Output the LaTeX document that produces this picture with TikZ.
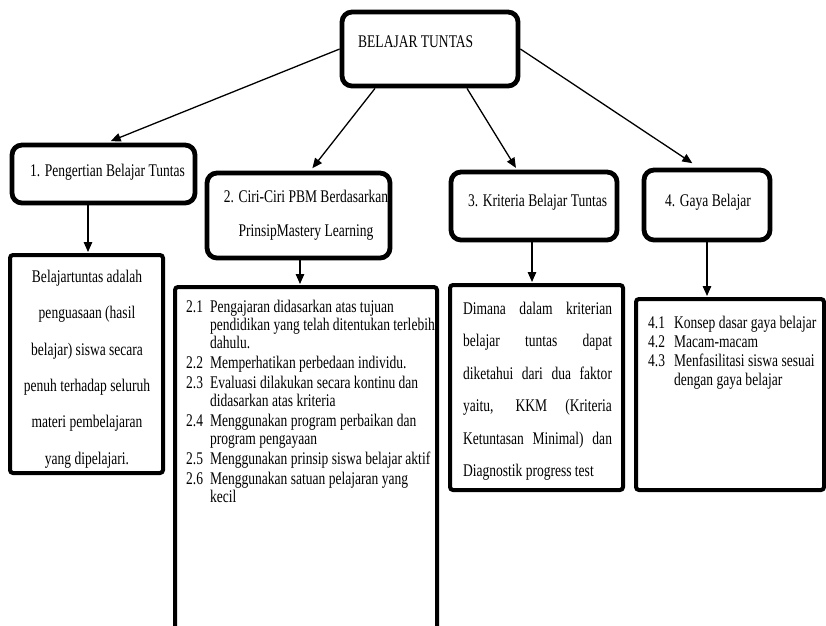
\documentclass[tikz,border=0pt]{standalone}
\usepackage{fontspec}
\setmainfont{Liberation Serif}[FakeStretch=0.76]
\usetikzlibrary{arrows.meta}

\begin{document}
\begin{tikzpicture}[x=1pt, y=-1pt]
\tikzset{hdr/.style={draw, line width=4.8pt, rounded corners=10pt, inner sep=0pt}}
\tikzset{detbox/.style={draw, line width=4pt, rounded corners=3pt, inner sep=0pt}}
\tikzset{txt/.style={inner sep=0pt, font=\fontsize{17.8}{19}\selectfont}}
\tikzset{link/.style={line width=1.3pt, -{Triangle[length=10pt, width=8.5pt]}}}
\useasboundingbox (0,0) rectangle (826,625);

% header boxes
\node[hdr, minimum width=176pt, minimum height=74pt] (root) at (430,49) {};
\node[txt, anchor=west] (roottxt) at (358,42) {BELAJAR TUNTAS};
\node[hdr, minimum width=183pt, minimum height=58pt] (def) at (103.5,174) {};
\node[txt, anchor=west] (deftxt) at (30,172) {1. Pengertian Belajar Tuntas};
\node[hdr, minimum width=183pt, minimum height=85pt] (ciri) at (298.5,215.5) {};
\node[txt, align=center, font=\fontsize{17.8}{34}\selectfont] (ciritxt) at (306,215)
  {2. Ciri-Ciri PBM Berdasarkan\\ PrinsipMastery Learning};
\node[hdr, minimum width=166pt, minimum height=68pt] (krit) at (534,206) {};
\node[txt, anchor=west] (krittxt) at (468,202) {3. Kriteria Belajar Tuntas};
\node[hdr, minimum width=126pt, minimum height=70pt] (gaya) at (707,205) {};
\node[txt, anchor=west] (gayatxt) at (665,202) {4. Gaya Belajar};

% detail boxes
\node[detbox, minimum width=153pt, minimum height=218pt] (det1) at (86.5,364) {};
\node[txt, align=center, font=\fontsize{17.8}{36.4}\selectfont] (det1txt) at (87,369)
  {Belajartuntas adalah\\ penguasaan (hasil\\ belajar) siswa secara\\
   penuh terhadap seluruh\\ materi pembelajaran\\ yang dipelajari.};
\node[detbox, minimum width=262pt, minimum height=400pt] (det2) at (306,487) {};
\node[txt, anchor=north west, font=\fontsize{17.8}{18}\selectfont] (det2txt) at (186,300) {%
  \begin{tabular}{@{}l@{\hspace{7pt}}l@{}}
  2.1 & Pengajaran didasarkan atas tujuan\\
      & pendidikan yang telah ditentukan terlebih\\
      & dahulu.\\[2pt]
  2.2 & Memperhatikan perbedaan individu.\\[2pt]
  2.3 & Evaluasi dilakukan secara kontinu dan\\
      & didasarkan atas kriteria\\[2pt]
  2.4 & Menggunakan program perbaikan dan\\
      & program pengayaan\\[2pt]
  2.5 & Menggunakan prinsip siswa belajar aktif\\[2pt]
  2.6 & Menggunakan satuan pelajaran yang\\
      & kecil
  \end{tabular}};
\node[detbox, minimum width=173pt, minimum height=205pt] (det3) at (536.5,387.5) {};
\node[txt, text width=149pt, align=justify, font=\fontsize{17.8}{32.5}\selectfont] (det3txt) at (537.5,391)
  {Dimana dalam kriterian\linebreak belajar tuntas dapat\linebreak
   diketahui dari dua faktor\linebreak yaitu, KKM (Kriteria\linebreak
   Ketuntasan Minimal) dan\linebreak Diagnostik progress test};
\node[detbox, minimum width=188pt, minimum height=191pt] (det4) at (730,394.5) {};
\node[txt, anchor=north west] (det4txt) at (648,315) {%
  \begin{tabular}{@{}l@{\hspace{9pt}}l@{}}
  4.1 & Konsep dasar gaya belajar\\
  4.2 & Macam-macam\\
  4.3 & Menfasilitasi siswa sesuai\\
      & dengan gaya belajar
  \end{tabular}};

% connectors
\draw[link, shorten >=4pt] (root.west) -- ([xshift=3.5pt]def.north);
\draw[link, shorten >=3pt] ([xshift=-55pt]root.south) -- ([xshift=12pt]ciri.north);
\draw[link, shorten >=2pt] ([xshift=37pt]root.south) -- ([xshift=-17pt]krit.north);
\draw[link, shorten >=8pt] (root.east) -- ([xshift=-8pt]gaya.north);
\draw[link, shorten >=1pt] ([xshift=-15.5pt]def.south) -- ([xshift=1.5pt]det1.north);
\draw[link, shorten >=1pt] ([xshift=1.5pt]ciri.south) -- ([xshift=-6pt]det2.north);
\draw[link, shorten >=1pt] ([xshift=-2pt]krit.south) -- ([xshift=-4.5pt]det3.north);
\draw[link, shorten >=1pt] (gaya.south) -- ([xshift=-23pt]det4.north);
\end{tikzpicture}
\end{document}
